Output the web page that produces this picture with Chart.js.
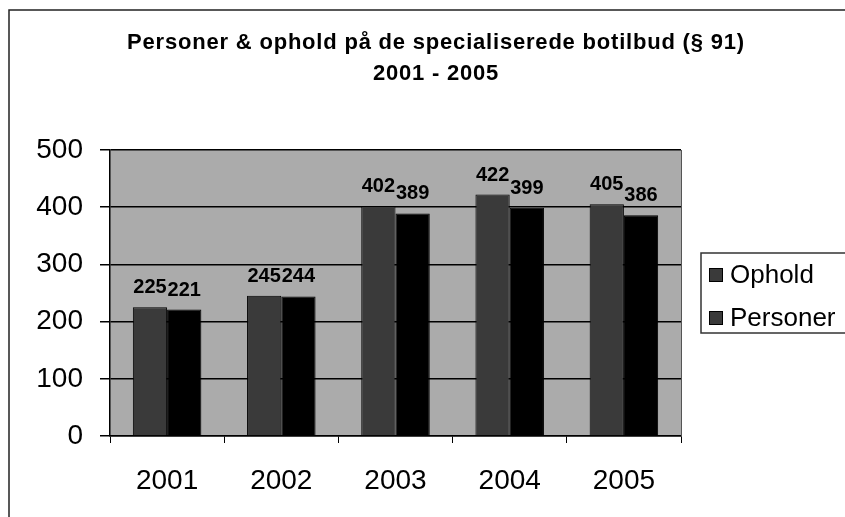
<!DOCTYPE html>
<html>
<head>
<meta charset="utf-8">
<script src="https://cdn.jsdelivr.net/npm/chart.js@4/dist/chart.umd.min.js"></script>
<style>
  html,body{margin:0;padding:0;background:#fff;}
  #wrap{width:845px;height:517px;position:relative;}
</style>
</head>
<body>
<div id="wrap"><canvas id="c" width="845" height="517"></canvas></div>
<script>
const titleLines = ["Personer & ophold på de specialiserede botilbud (§ 91)", "2001 - 2005"];
const categories = ["2001", "2002", "2003", "2004", "2005"];
const seriesNames = ["Ophold", "Personer"];
const opholdValues = [225, 245, 402, 422, 405];
const personerValues = [221, 244, 389, 399, 386];
const yTicks = [0, 100, 200, 300, 400, 500];

const FONT = "'Liberation Sans', Arial, Helvetica, sans-serif";
const OPHOLD_COLOR = '#3a3a3a';
const PERSONER_COLOR = '#000000';

const decorPlugin = {
  id: 'decor',
  beforeDraw(chart) {
    const ctx = chart.ctx, a = chart.chartArea;
    ctx.save();
    ctx.fillStyle = '#ababab';
    ctx.fillRect(a.left, a.top, a.right - a.left, a.bottom - a.top);
    ctx.strokeStyle = '#222';
    ctx.lineWidth = 1.5;
    ctx.beginPath();
    ctx.moveTo(9, chart.height);
    ctx.lineTo(9, 10);
    ctx.lineTo(chart.width, 10);
    ctx.stroke();
    ctx.restore();
  },
  afterDraw(chart) {
    const ctx = chart.ctx, a = chart.chartArea;
    ctx.save();
    ctx.strokeStyle = '#555';
    ctx.lineWidth = 1;
    ctx.beginPath();
    ctx.moveTo(a.right + 0.5, a.top);
    ctx.lineTo(a.right + 0.5, a.bottom);
    ctx.stroke();
    // title
    ctx.fillStyle = '#000';
    ctx.textAlign = 'center';
    ctx.textBaseline = 'middle';
    ctx.font = 'bold 22px ' + FONT;
    if ('letterSpacing' in ctx) ctx.letterSpacing = '0.8px';
    titleLines.forEach((t, i) => ctx.fillText(t, 436, 43 + i * 31));
    if ('letterSpacing' in ctx) ctx.letterSpacing = '0px';
    // legend
    ctx.strokeStyle = '#333';
    ctx.lineWidth = 1.5;
    ctx.strokeRect(701, 253, 160, 80);
    ctx.font = '26px ' + FONT;
    ctx.textAlign = 'left';
    chart.data.datasets.forEach((ds, i) => {
      const cy = 275 + i * 43;
      ctx.fillStyle = OPHOLD_COLOR;
      ctx.fillRect(709, cy - 7, 14, 14);
      ctx.strokeStyle = '#000';
      ctx.lineWidth = 1;
      ctx.strokeRect(709.5, cy - 6.5, 13, 13);
      ctx.fillStyle = '#000';
      ctx.fillText(ds.label, 730, cy + 1);
    });
    ctx.restore();
  },
  afterDatasetsDraw(chart) {
    const ctx = chart.ctx;
    ctx.save();
    ctx.fillStyle = '#000';
    ctx.font = 'bold 20px ' + FONT;
    ctx.textAlign = 'center';
    ctx.textBaseline = 'alphabetic';
    chart.data.datasets.forEach((ds, di) => {
      const meta = chart.getDatasetMeta(di);
      meta.data.forEach((el, i) => {
        ctx.fillText(String(ds.data[i]), el.x, el.y - 14);
      });
    });
    ctx.restore();
  }
};

new Chart(document.getElementById('c'), {
  type: 'bar',
  data: {
    labels: categories,
    datasets: [
      { label: seriesNames[0], data: opholdValues, backgroundColor: OPHOLD_COLOR, borderColor: '#000', borderWidth: 1 },
      { label: seriesNames[1], data: personerValues, backgroundColor: PERSONER_COLOR, borderColor: '#000', borderWidth: 1 }
    ]
  },
  options: {
    responsive: false,
    animation: false,
    events: [],
    layout: { padding: { top: 150, right: 164, left: 0, bottom: 0 } },
    plugins: { legend: { display: false }, title: { display: false }, tooltip: { enabled: false } },
    datasets: { bar: { categoryPercentage: 0.6, barPercentage: 1.0 } },
    scales: {
      x: {
        offset: true,
        grid: { display: true, drawOnChartArea: false, drawTicks: true, tickLength: 7, color: '#000', offset: true },
        border: { display: true, color: '#000', width: 1.5 },
        ticks: { color: '#000', font: { family: FONT, size: 28 }, padding: 21, maxRotation: 0 },
        afterFit(s) { s.height = 81; }
      },
      y: {
        min: 0, max: 500,
        afterBuildTicks(s) { s.ticks = yTicks.map(v => ({ value: v })); },
        grid: { color: '#000', lineWidth: 1.5, drawTicks: true, tickLength: 10 },
        border: { display: true, color: '#000', width: 1.5 },
        ticks: { color: '#000', font: { family: FONT, size: 28 }, padding: 17 },
        afterFit(s) { s.width = 110; }
      }
    }
  },
  plugins: [decorPlugin]
});
</script>
</body>
</html>
